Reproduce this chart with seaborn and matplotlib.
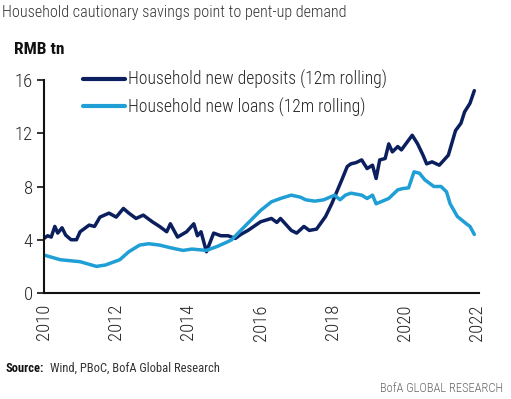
import numpy as np
import pandas as pd
import matplotlib
matplotlib.use("Agg")
import matplotlib.pyplot as plt
import seaborn as sns
from matplotlib import font_manager as fm

# ---- data (decimal years, RMB tn) ----
dep_years = [2010.0, 2010.1, 2010.2, 2010.3, 2010.38, 2010.5, 2010.6, 2010.75, 2010.9, 2011.0,
             2011.25, 2011.4, 2011.55, 2011.8, 2012.0, 2012.2, 2012.35, 2012.55, 2012.75, 2013.0,
             2013.2, 2013.4, 2013.5, 2013.7, 2013.95, 2014.15, 2014.25, 2014.35, 2014.5, 2014.7,
             2014.9, 2015.1, 2015.3, 2015.45, 2015.65, 2016.0, 2016.3, 2016.45, 2016.55, 2016.85,
             2017.0, 2017.2, 2017.35, 2017.55, 2017.8, 2017.97, 2018.25, 2018.4, 2018.5, 2018.65,
             2018.8, 2018.95, 2019.1, 2019.2, 2019.3, 2019.45, 2019.55, 2019.65, 2019.8, 2019.9,
             2020.2, 2020.35, 2020.5, 2020.6, 2020.75, 2020.95, 2021.2, 2021.4, 2021.55, 2021.65,
             2021.8, 2021.92]
dep_values = [4.1, 4.3, 4.2, 5.0, 4.5, 4.9, 4.35, 4.0, 4.0, 4.6,
              5.1, 5.0, 5.7, 6.0, 5.7, 6.35, 6.0, 5.6, 5.85, 5.35,
              5.0, 4.6, 5.2, 4.2, 4.6, 5.2, 4.3, 4.6, 3.1, 4.5,
              4.3, 4.3, 4.1, 4.4, 4.7, 5.35, 5.6, 5.3, 5.6, 4.7,
              4.5, 5.0, 4.7, 4.8, 5.75, 6.7, 8.5, 9.5, 9.7, 9.8,
              10.0, 9.35, 9.6, 8.6, 10.0, 10.1, 11.2, 10.6, 11.0, 10.75,
              11.85, 11.2, 10.35, 9.7, 9.85, 9.6, 10.35, 12.2, 12.75, 13.6,
              14.25, 15.2]

loan_years = [2010.0, 2010.45, 2011.0, 2011.45, 2011.7, 2012.1, 2012.35, 2012.65, 2012.9, 2013.2,
              2013.5, 2013.85, 2014.1, 2014.5, 2014.8, 2015.05, 2015.2, 2015.45, 2016.0, 2016.3,
              2016.55, 2016.85, 2017.1, 2017.25, 2017.5, 2017.75, 2018.05, 2018.2, 2018.35, 2018.5,
              2018.8, 2018.95, 2019.1, 2019.2, 2019.55, 2019.8, 2019.95, 2020.1, 2020.25, 2020.4,
              2020.55, 2020.8, 2021.0, 2021.15, 2021.25, 2021.45, 2021.7, 2021.8, 2021.92]
loan_values = [2.85, 2.5, 2.35, 2.0, 2.1, 2.5, 3.1, 3.6, 3.7, 3.6,
               3.4, 3.2, 3.3, 3.2, 3.5, 3.8, 4.0, 4.7, 6.2, 6.85,
               7.1, 7.35, 7.2, 7.0, 6.9, 7.0, 7.35, 7.0, 7.35, 7.5,
               7.35, 7.1, 7.35, 6.7, 7.1, 7.75, 7.85, 7.9, 9.1, 9.0,
               8.5, 8.0, 8.0, 7.6, 6.7, 5.75, 5.2, 5.0, 4.4]

series_names = ["Household new deposits (12m rolling)", "Household new loans (12m rolling)"]
x_ticks = [2010, 2012, 2014, 2016, 2018, 2020, 2022]
y_ticks = [0, 4, 8, 12, 16]

df = pd.concat([
    pd.DataFrame({"year": dep_years, "value": dep_values, "series": series_names[0]}),
    pd.DataFrame({"year": loan_years, "value": loan_values, "series": series_names[1]}),
])

sns.set_style("white")
installed = {f.name for f in fm.fontManager.ttflist}
condensed_names = ["Roboto Condensed", "Liberation Sans Narrow", "Open Sans Condensed",
                   "Arial Narrow"]
main_font = None
for name in condensed_names:
    if name in installed:
        main_font = name
        break
stretch = "normal"
scale = 1.0
if main_font is None:
    cond_files = [f for f in fm.fontManager.ttflist
                  if f.name == "DejaVu Sans" and "Condensed" in f.fname]
    if cond_files:
        main_font = "DejaVu Sans"
        stretch = "condensed"
        scale = 0.95
    else:
        main_font = "Roboto"
        scale = 0.9
plt.rcParams["font.family"] = [main_font, "DejaVu Sans"]
plt.rcParams["font.stretch"] = stretch

navy = "#0b1f5f"
light = "#1f9fd6"
txt = "#262626"

fig = plt.figure(figsize=(5.11, 3.99), dpi=100)
ax = fig.add_axes([44 / 511, 1 - 293 / 399, (479 - 44) / 511, (293 - 80) / 399])

sns.lineplot(data=df, x="year", y="value", hue="series",
             palette={series_names[0]: navy, series_names[1]: light},
             linewidth=2.5, ax=ax, sort=False)

ax.set_xlim(2010, 2022.05)
ax.set_ylim(0, 16)
ax.set_xticks(x_ticks)
ax.set_yticks(y_ticks)
ax.set_xticklabels([str(t) for t in x_ticks], rotation=90, fontsize=13.5 * scale,
                   color=txt, fontstretch=stretch, fontweight="light")
ax.set_yticklabels([str(t) for t in y_ticks], fontsize=13.5 * scale, color=txt,
                   fontstretch=stretch, fontweight="light")
ax.tick_params(axis="y", length=5, width=1.2, color="#111111", pad=3, direction="out", left=True)
ax.tick_params(axis="x", length=0, pad=8)
ax.set_xlabel("")
ax.set_ylabel("")
for s in ["top", "right"]:
    ax.spines[s].set_visible(False)
for s in ["left", "bottom"]:
    ax.spines[s].set_color("#111111")
    ax.spines[s].set_linewidth(1.5)

leg = ax.legend(loc="upper left", bbox_to_anchor=(0.09, 1.045), frameon=False,
                handlelength=2.4, handletextpad=0.12, labelspacing=0.45,
                borderaxespad=0, borderpad=0,
                prop={"size": 12.7 * scale, "weight": "light", "stretch": stretch})
for line in leg.get_lines():
    line.set_linewidth(3.0)
for t in leg.get_texts():
    t.set_color(txt)

fig.text(2 / 511, 1 - 13 / 399, "Household cautionary savings point to pent-up demand",
         fontsize=11.6 * scale, color="#333333", va="center", ha="left", fontweight="light")
fig.text(14 / 511, 1 - 50 / 399, "RMB tn", fontsize=12.5 * scale, fontweight="bold",
         color="#111111", va="center", ha="left")
fig.text(6 / 511, 1 - 368 / 399, "Source:", fontsize=9 * scale, fontweight="bold",
         color="#111111", va="center", ha="left")
fig.text(50 / 511, 1 - 368 / 399, "Wind, PBoC, BofA Global Research", fontsize=9 * scale,
         color="#333333", va="center", ha="left")
fig.text(503 / 511, 1 - 389 / 399, "BofA GLOBAL RESEARCH", fontsize=9 * scale,
         color="#666666", va="center", ha="right", fontweight="light")

fig.savefig("out.png", dpi=100)
